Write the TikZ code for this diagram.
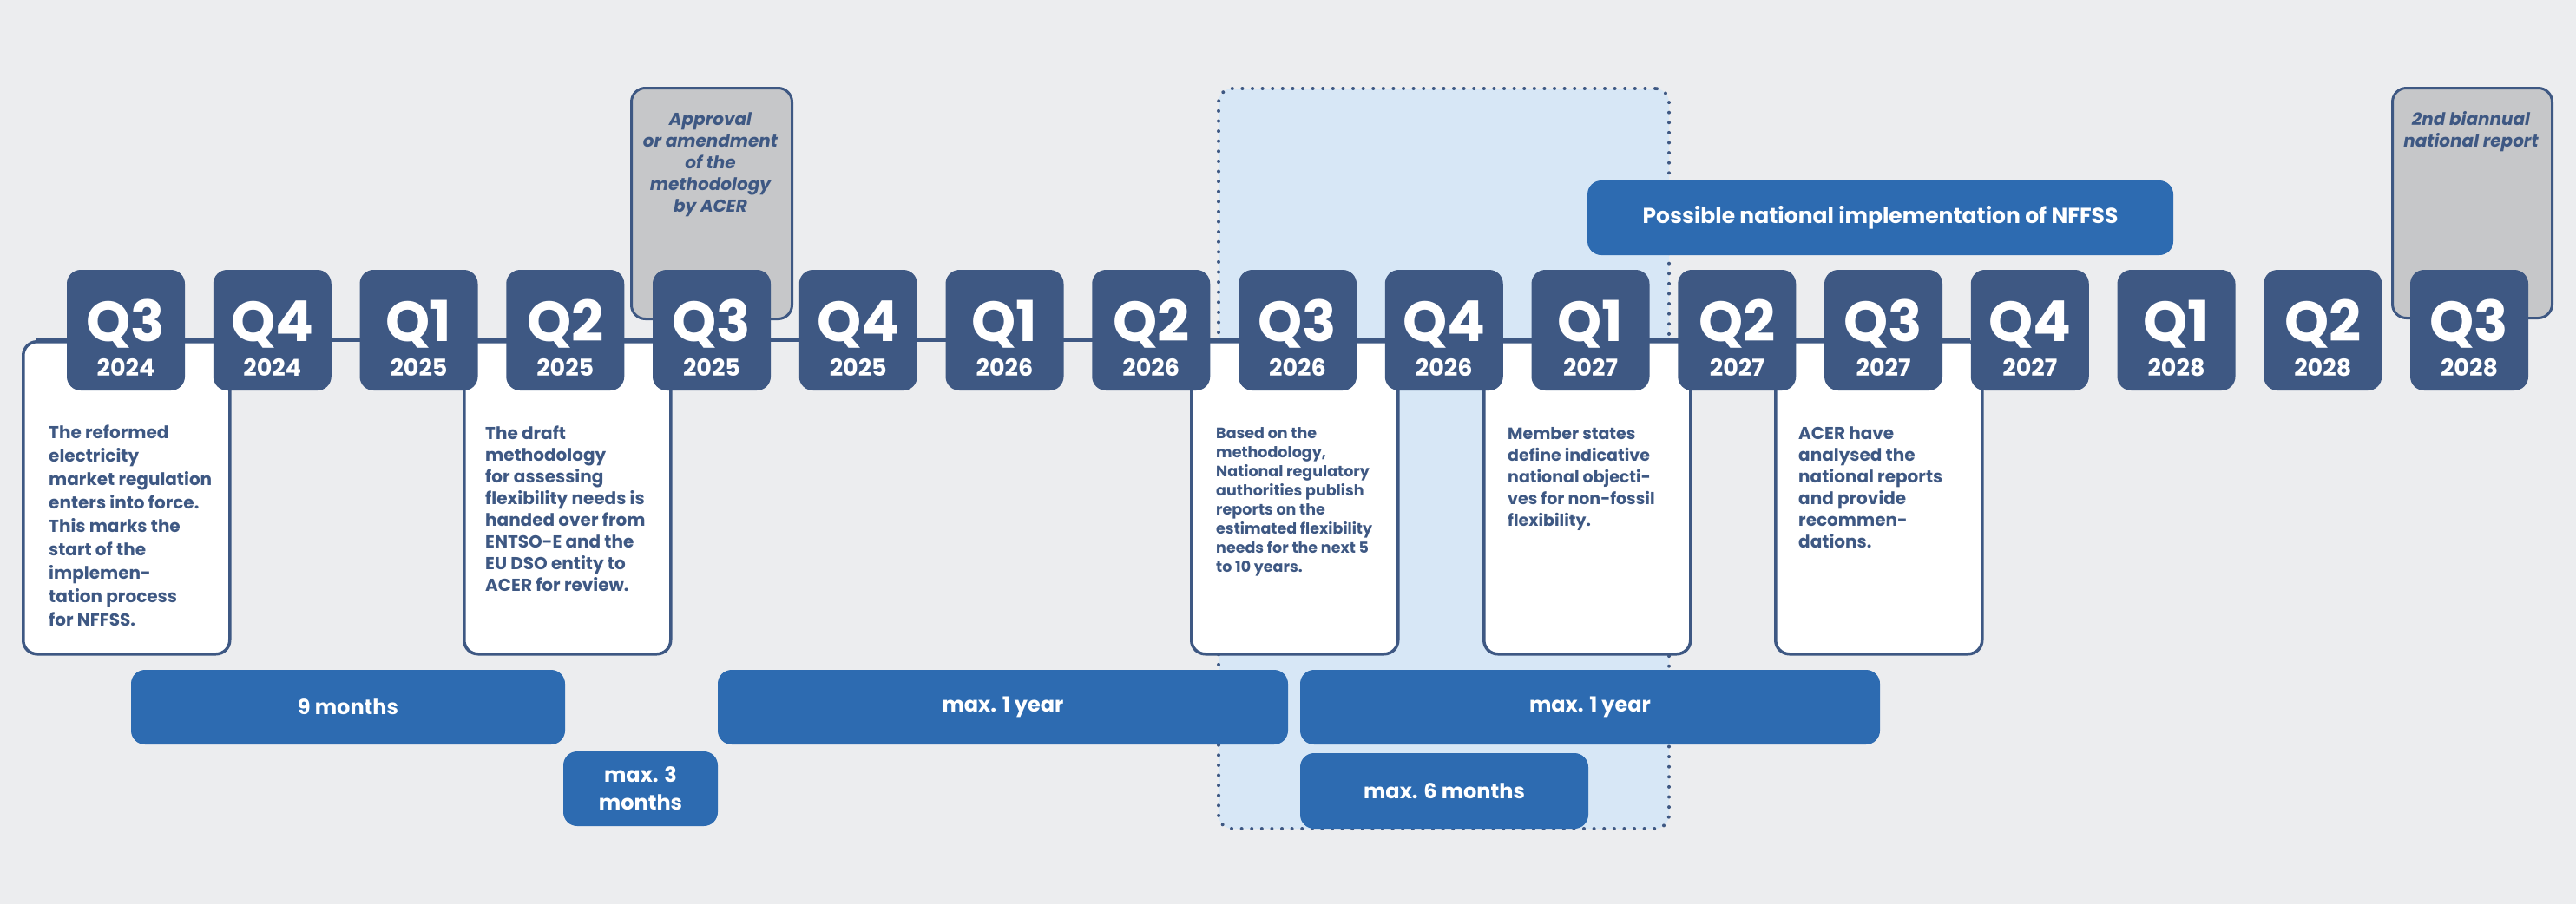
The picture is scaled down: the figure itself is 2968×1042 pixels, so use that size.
\documentclass[tikz,border=0pt]{standalone}
\usepackage{fontspec}
\setmainfont{Poppins}
\definecolor{bgc}{HTML}{ECEDEF}
\definecolor{navy}{HTML}{3E5883}
\definecolor{barblue}{HTML}{2D6BB1}
\definecolor{greyfill}{HTML}{C6C7C9}
\definecolor{regionfill}{HTML}{D7E7F6}
\begin{document}
\begin{tikzpicture}[x=1pt,y=-1pt,
 qbox/.style={fill=navy, rounded corners=16pt, minimum width=136pt, minimum height=139pt, inner sep=0pt},
 qlab/.style={text=white, font=\bfseries\fontsize{65}{65}\selectfont, inner sep=0pt, anchor=base},
 ylab/.style={text=white, font=\bfseries\fontsize{27}{27}\selectfont, inner sep=0pt, anchor=base},
 descbox/.style={draw=navy, line width=3.5pt, fill=white, rounded corners=16pt, anchor=north west, minimum width=238pt, minimum height=360pt, inner sep=0pt},
 desctext/.style={text=navy, align=left, inner sep=0pt, anchor=north west},
 greyb/.style={draw=navy, line width=3pt, fill=greyfill, rounded corners=16pt, anchor=north west, inner sep=0pt},
 greytext/.style={text=navy, align=center, inner sep=0pt, anchor=north, font=\bfseries\itshape\fontsize{20}{25}\selectfont},
 bar/.style={fill=barblue, rounded corners=16pt, text=white, font=\bfseries\fontsize{24}{32}\selectfont, align=center, inner sep=0pt},
 tl/.style={draw=navy, line width=3.5pt},
 regionbox/.style={fill=regionfill, draw=navy, line width=4pt, dash pattern=on 0pt off 11.6pt, line cap=round, rounded corners=16pt, anchor=north west, inner sep=0pt}
]
\useasboundingbox (0,0) rectangle (2968,1042);
\fill[bgc] (0,0) rectangle (2968,1042);

% highlighted region
\node[regionbox, minimum width=519pt, minimum height=853pt] (region) at (1402,100) {};

% description boxes
\node[descbox] (d1) at (25,392) {};
\node[descbox] (d2) at (533,392) {};
\node[descbox] (d3) at (1371,392) {};
\node[descbox] (d4) at (1708,392) {};
\node[descbox] (d5) at (2044,392) {};

% timeline
\draw[tl] ([xshift=16pt]d1.north west) -- ([xshift=-16pt]d5.north east);

% grey boxes
\node[greyb, minimum width=185pt, minimum height=266pt] (g1) at (726,100) {};
\node[greyb, minimum width=184pt, minimum height=265pt] (g2) at (2755,100) {};
\node[greytext] (gt1) at (818.5,129) {Approval\\or amendment\\of the\\methodology\\by ACER};
\node[greytext] (gt2) at (2847,128) {2nd biannual\\national report};

% quarter boxes
\foreach \i/\q/\yr in {0/Q3/2024,1/Q4/2024,2/Q1/2025,3/Q2/2025,4/Q3/2025,5/Q4/2025,6/Q1/2026,7/Q2/2026,8/Q3/2026,9/Q4/2026,10/Q1/2027,11/Q2/2027,12/Q3/2027,13/Q4/2027,14/Q1/2028,15/Q2/2028,16/Q3/2028}{
  \pgfmathsetmacro\cx{145+168.75*\i}
  \node[qbox] (q\i) at (\cx,380.5) {};
  \node[qlab] (ql\i) at (\cx,393) {\q};
  \node[ylab] (qy\i) at (\cx,433) {\yr};
}

% description texts
\node[desctext, font=\bfseries\fontsize{20}{27}\selectfont] (t1) at (56,490) {The reformed\\electricity\\market regulation\\enters into force.\\This marks the\\start of the\\implemen-\\tation process\\for NFFSS.};
\node[desctext, font=\bfseries\fontsize{20}{25}\selectfont] (t2) at (559,491) {The draft\\methodology\\for assessing\\flexibility needs is\\handed over from\\ENTSO-E and the\\EU DSO entity to\\ACER for review.};
\node[desctext, font=\bfseries\fontsize{17.5}{22}\selectfont] (t3) at (1401,492) {Based on the\\methodology,\\National regulatory\\authorities publish\\reports on the\\estimated flexibility\\needs for the next 5\\to 10 years.};
\node[desctext, font=\bfseries\fontsize{19}{25}\selectfont] (t4) at (1737,492) {Member states\\define indicative\\national objecti-\\ves for non-fossil\\flexibility.};
\node[desctext, font=\bfseries\fontsize{20}{25}\selectfont] (t5) at (2072,491) {ACER have\\analysed the\\national reports\\and provide\\recommen-\\dations.};

% duration bars
\node[bar, minimum width=500pt, minimum height=86pt] (b1) at (401,815) {9 months};
\node[bar, minimum width=178pt, minimum height=86pt] (b2) at (738,909) {max. 3\\months};
\node[bar, minimum width=657pt, minimum height=86pt] (b3) at (1155.5,815) {max. 1 year};
\node[bar, minimum width=668pt, minimum height=86pt] (b4) at (1832,815) {max. 1 year};
\node[bar, minimum width=332pt, minimum height=87pt] (b5) at (1664,911.5) {max. 6 months};
\node[bar, minimum width=675pt, minimum height=86pt, font=\bfseries\fontsize{25}{28}\selectfont] (b6) at (2166.5,251) {Possible national implementation of NFFSS};
\end{tikzpicture}
\end{document}
